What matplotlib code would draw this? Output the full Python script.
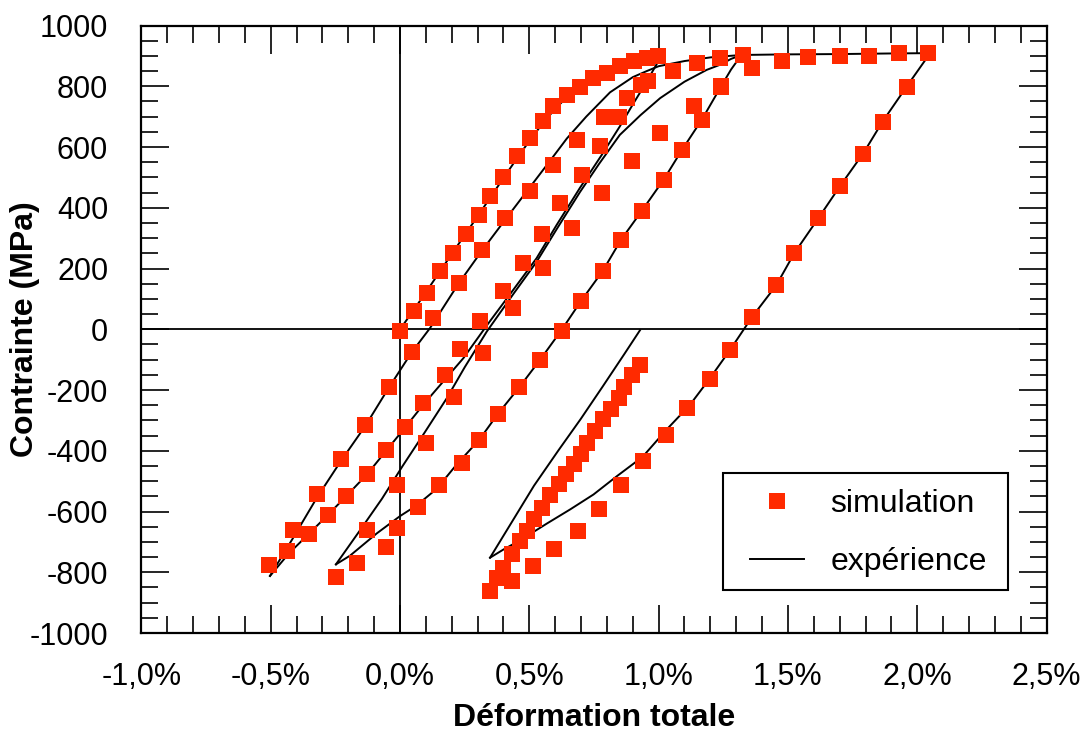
import matplotlib
matplotlib.use('Agg')
import matplotlib.pyplot as plt
from matplotlib.ticker import MultipleLocator
from matplotlib.patches import Rectangle

plt.rcParams['font.family'] = ['Liberation Sans', 'DejaVu Sans']
plt.rcParams['axes.unicode_minus'] = False

# simulation (strain in %, stress in MPa), one list per branch
sim_load_x = [0.0, 0.052, 0.103, 0.155, 0.204, 0.255, 0.307, 0.348, 0.40, 0.451, 0.503,
              0.554, 0.593, 0.645, 0.696, 0.748, 0.80, 0.851, 0.903, 0.954, 0.999]
sim_load_y = [-5, 59, 119, 191, 251, 313, 375, 438, 501, 569, 629,
              684, 734, 772, 799, 827, 844, 866, 882, 892, 898]

sim_unload1_x = [0.93, 0.845, 0.774, 0.703, 0.619, 0.548, 0.477, 0.40, 0.309, 0.232,
                 0.174, 0.090, 0.018, -0.054, -0.126, -0.209, -0.280, -0.351, -0.436, -0.506]
sim_unload1_y = [805, 698, 602, 509, 416, 313, 218, 125, 26, -66,
                 -152, -242, -322, -399, -476, -549, -610, -673, -730, -777]

sim_reload1_x = [-0.413, -0.322, -0.229, -0.135, -0.044, 0.045, 0.129, 0.226, 0.316, 0.406,
                 0.503, 0.593, 0.683, 0.787, 0.877, 0.96, 1.057, 1.147, 1.238, 1.328]
sim_reload1_y = [-661, -542, -427, -314, -191, -76, 37, 152, 262, 366,
                 454, 542, 624, 698, 761, 816, 851, 876, 892, 903]

sim_unload2_x = [1.241, 1.167, 1.09, 1.019, 0.935, 0.855, 0.783, 0.699, 0.625, 0.542,
                 0.461, 0.378, 0.307, 0.239, 0.152, 0.071, -0.013, -0.054, -0.168, -0.248]
sim_unload2_y = [799, 690, 591, 492, 390, 295, 191, 92, -7, -100,
                 -191, -279, -363, -440, -514, -586, -653, -717, -771, -815]

sim_reload2_x = [-0.129, -0.013, 0.1, 0.209, 0.322, 0.438, 0.554, 0.664, 0.78, 0.896,
                 1.006, 1.135, 1.24, 1.36, 1.477, 1.577, 1.702, 1.814, 1.93, 2.041]
sim_reload2_y = [-662, -514, -374, -224, -78, 70, 202, 333, 448, 553,
                 646, 734, 800, 860, 884, 896, 901, 901, 909, 909]

sim_unload3_x = [1.96, 1.867, 1.792, 1.702, 1.618, 1.525, 1.455, 1.361, 1.277, 1.197,
                 1.111, 1.029, 0.94, 0.854, 0.771, 0.690, 0.596, 0.513, 0.432, 0.348]
sim_unload3_y = [796, 681, 577, 470, 366, 251, 145, 40, -67, -163,
                 -259, -347, -435, -514, -593, -664, -725, -780, -829, -862]

sim_reload3_x = [0.374, 0.40, 0.432, 0.464, 0.490, 0.518, 0.548, 0.578, 0.613, 0.642,
                 0.671, 0.699, 0.722, 0.754, 0.784, 0.815, 0.845, 0.867, 0.896, 0.928]
sim_reload3_y = [-818, -785, -741, -697, -664, -626, -588, -547, -511, -478,
                 -445, -410, -374, -336, -297, -264, -226, -191, -151, -118]

# experiment, one list per branch
exp_load_x = [0, 0.05, 0.1, 0.15, 0.2, 0.25, 0.3, 0.35, 0.4, 0.45, 0.5,
              0.55, 0.6, 0.65, 0.7, 0.75, 0.8, 0.85, 0.9, 0.95, 1.0]
exp_load_y = [0, 60, 122, 185, 248, 310, 372, 435, 498, 560, 620,
              676, 726, 768, 800, 825, 845, 860, 871, 879, 884]

exp_unload1_x = [1.0, 0.95, 0.9, 0.85, 0.78, 0.696, 0.606, 0.528, 0.438, 0.335, 0.245,
                 0.174, 0.09, 0.018, -0.054, -0.126, -0.209, -0.28, -0.351, -0.43, -0.503]
exp_unload1_y = [884, 810, 740, 668, 574, 466, 344, 234, 130, 12, -95,
                 -165, -248, -325, -400, -476, -550, -612, -672, -738, -812]

exp_reload1_x = [-0.503, -0.413, -0.322, -0.229, -0.135, -0.044, 0.045, 0.116, 0.226, 0.316, 0.406,
                 0.49, 0.567, 0.645, 0.72, 0.812, 0.9, 0.954, 1.0, 1.1, 1.2, 1.32]
exp_reload1_y = [-812, -686, -555, -434, -319, -193, -76, 4, 150, 258, 360,
                 454, 540, 628, 700, 780, 830, 850, 866, 883, 895, 903]

exp_unload2_x = [1.32, 1.28, 1.241, 1.167, 1.09, 1.019, 0.935, 0.855, 0.783, 0.699, 0.625,
                 0.542, 0.461, 0.378, 0.307, 0.219, 0.142, 0.064, 0.0, -0.09, -0.193, -0.248]
exp_unload2_y = [903, 855, 799, 690, 590, 492, 390, 295, 191, 92, -2,
                 -100, -191, -279, -363, -445, -525, -580, -615, -672, -745, -774]

exp_reload2_x = [-0.248, -0.16, -0.07, 0.01, 0.095, 0.18, 0.25, 0.335, 0.438, 0.528, 0.606, 0.696,
                 0.77, 0.85, 0.93, 1.006, 1.1, 1.186, 1.238, 1.28, 1.32, 1.5, 1.7, 1.9, 2.05]
exp_reload2_y = [-774, -668, -558, -450, -340, -228, -125, -8, 116, 222, 330, 452,
                 545, 640, 705, 761, 815, 854, 871, 890, 903, 905, 906, 908, 909]

exp_unload3_x = [2.05, 1.96, 1.867, 1.792, 1.702, 1.618, 1.525, 1.455, 1.361, 1.277, 1.197,
                 1.12, 1.031, 0.938, 0.838, 0.748, 0.658, 0.567, 0.464, 0.40, 0.348]
exp_unload3_y = [909, 800, 685, 580, 472, 366, 251, 145, 40, -67, -163,
                 -250, -330, -420, -484, -544, -593, -640, -695, -725, -752]

exp_reload3_x = [0.348, 0.432, 0.518, 0.613, 0.699, 0.784, 0.867, 0.928]
exp_reload3_y = [-752, -635, -515, -398, -295, -188, -82, -3]

x_ticks = [-1.0, -0.5, 0.0, 0.5, 1.0, 1.5, 2.0, 2.5]
x_tick_labels = ['-1,0%', '-0,5%', '0,0%', '0,5%', '1,0%', '1,5%', '2,0%', '2,5%']
y_ticks = [-1000, -800, -600, -400, -200, 0, 200, 400, 600, 800, 1000]
y_tick_labels = ['-1000', '-800', '-600', '-400', '-200', '0', '200', '400', '600', '800', '1000']

sim_x = (sim_load_x + sim_unload1_x + sim_reload1_x + sim_unload2_x
         + sim_reload2_x + sim_unload3_x + sim_reload3_x)
sim_y = (sim_load_y + sim_unload1_y + sim_reload1_y + sim_unload2_y
         + sim_reload2_y + sim_unload3_y + sim_reload3_y)

exp_branches = [(exp_load_x, exp_load_y), (exp_unload1_x, exp_unload1_y),
                (exp_reload1_x, exp_reload1_y), (exp_unload2_x, exp_unload2_y),
                (exp_reload2_x, exp_reload2_y), (exp_unload3_x, exp_unload3_y),
                (exp_reload3_x, exp_reload3_y)]

fig = plt.figure(figsize=(10.9, 7.33), dpi=100)
ax = fig.add_axes([0.1298, 0.1364, 0.8303, 0.8288])

ax.axhline(0, color='black', lw=1.3, zorder=1)
ax.axvline(0, color='black', lw=1.3, zorder=1)

sim_handle, = ax.plot(sim_x, sim_y, 's', color='#ff2a00', ms=11, mew=0, zorder=3)
for i, (bx, by) in enumerate(exp_branches):
  line, = ax.plot(bx, by, color='black', lw=1.4, zorder=2)
  if i == 0:
    exp_handle = line

ax.set_xlim(-1.0, 2.5)
ax.set_ylim(-1000, 1000)
ax.set_xticks(x_ticks)
ax.set_xticklabels(x_tick_labels)
ax.set_yticks(y_ticks)
ax.set_yticklabels(y_tick_labels)
ax.xaxis.set_minor_locator(MultipleLocator(0.1))
ax.yaxis.set_minor_locator(MultipleLocator(50))
ax.tick_params(which='both', direction='in', top=True, right=True, width=1.2, colors='black')
ax.tick_params(which='major', length=20, labelsize=22)
ax.tick_params(axis='x', which='major', pad=21)
ax.tick_params(axis='y', which='major', pad=24)
ax.tick_params(which='minor', length=12.5)
for s in ax.spines.values():
  s.set_linewidth(1.6)

ax.set_xlabel('Déformation totale', fontsize=23, fontweight='bold')
ax.xaxis.set_label_coords(0.5, -0.115)
ax.set_ylabel('Contrainte (MPa)', fontsize=23, fontweight='bold')
ax.yaxis.set_label_coords(-0.112, 0.5)

# legend without its own frame, box drawn separately
leg = ax.legend([sim_handle, exp_handle], ['simulation', 'expérience'],
                loc='upper left', bbox_to_anchor=(750 / 1090, 1 - 489 / 733),
                bbox_transform=fig.transFigure, frameon=False, fontsize=23,
                borderpad=0, labelspacing=0.88, handlelength=1.69,
                handletextpad=0.82, borderaxespad=0, numpoints=1)
box = Rectangle((723 / 1090, 1 - 590 / 733), (1008 - 723) / 1090, (590 - 473) / 733,
                transform=fig.transFigure, fill=False, edgecolor='black', lw=1.5)
fig.add_artist(box)

fig.savefig('out.png', dpi=100)
